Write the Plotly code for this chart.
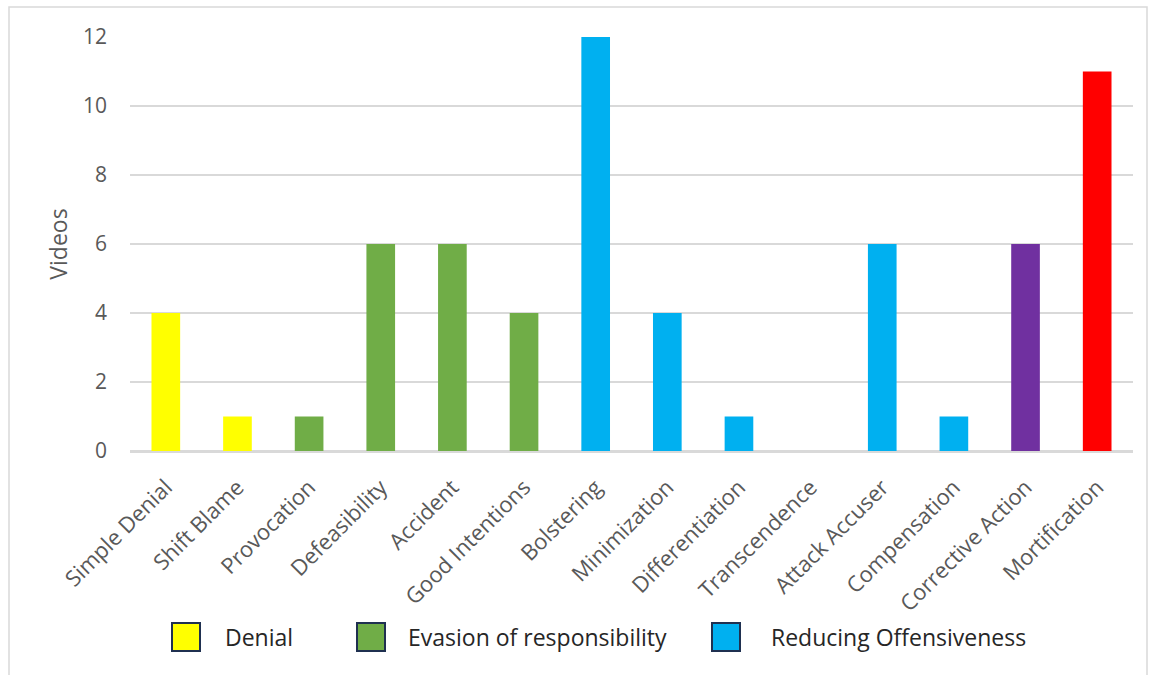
import plotly.graph_objects as go

categories = ["Simple Denial", "Shift Blame", "Provocation", "Defeasibility", "Accident",
              "Good Intentions", "Bolstering", "Minimization", "Differentiation", "Transcendence",
              "Attack Accuser", "Compensation", "Corrective Action", "Mortification"]
videos = [4, 1, 1, 6, 6, 4, 12, 4, 1, 0, 6, 1, 6, 11]
bar_colors = ["#FFFF00", "#FFFF00", "#70AD47", "#70AD47", "#70AD47", "#70AD47",
              "#00B0F0", "#00B0F0", "#00B0F0", "#00B0F0", "#00B0F0", "#00B0F0",
              "#7030A0", "#FF0000"]
legend_labels = ["Denial", "Evasion of responsibility", "Reducing Offensiveness"]
legend_colors = ["#FFFF00", "#70AD47", "#00B0F0"]
y_ticks = [0, 2, 4, 6, 8, 10, 12]

W, H = 1149, 675
L, R, T, B = 130, 1133, 37, 451  # plot area in px

def px(x):
    return (x - L) / (R - L)

def py(y):
    return (B - y) / (B - T)

fig = go.Figure()
fig.add_trace(go.Bar(x=categories, y=videos, marker=dict(color=bar_colors, line=dict(width=0)),
                     width=0.4, showlegend=False))

shapes = []
annotations = []
# outer chart frame
shapes.append(dict(type="rect", xref="paper", yref="paper", x0=px(9), x1=px(1147), y0=py(690), y1=py(7),
                   line=dict(color="#D9D9D9", width=1.5), fillcolor="rgba(0,0,0,0)", layer="below"))

leg_sq_x = [172, 357, 712]
leg_txt_x = [223, 406, 769]
for i, (lab, col) in enumerate(zip(legend_labels, legend_colors)):
    shapes.append(dict(type="rect", xref="paper", yref="paper",
                       x0=px(leg_sq_x[i]), x1=px(leg_sq_x[i] + 28), y0=py(651), y1=py(623),
                       line=dict(color="#1F3050", width=2), fillcolor=col))
    annotations.append(dict(text=lab, xref="paper", yref="paper", x=px(leg_txt_x[i]), y=py(637),
                            xanchor="left", yanchor="middle", showarrow=False,
                            font=dict(family="Open Sans", size=23, color="#262626")))

fig.update_layout(
    width=W, height=H,
    margin=dict(l=L, r=W - R, t=T, b=H - B),
    plot_bgcolor="white", paper_bgcolor="white",
    bargap=0.6,
    font=dict(family="Open Sans", color="#595959"),
    xaxis=dict(tickangle=-45, tickfont=dict(size=22, color="#595959"), showgrid=False,
               showline=True, linecolor="#D9D9D9", linewidth=1.5, ticks="", ticklabelstandoff=13,
               fixedrange=True),
    yaxis=dict(range=[0, 12], tickvals=y_ticks, tickfont=dict(size=21, color="#595959"),
               gridcolor="#D9D9D9", gridwidth=1.5, zeroline=True, zerolinecolor="#D9D9D9",
               zerolinewidth=1.5, showline=False, ticks="", ticklabelstandoff=22,
               title=dict(text="Videos", font=dict(size=23, color="#595959"), standoff=8)),
    shapes=shapes,
    annotations=annotations,
)

fig.write_html("out.html")
